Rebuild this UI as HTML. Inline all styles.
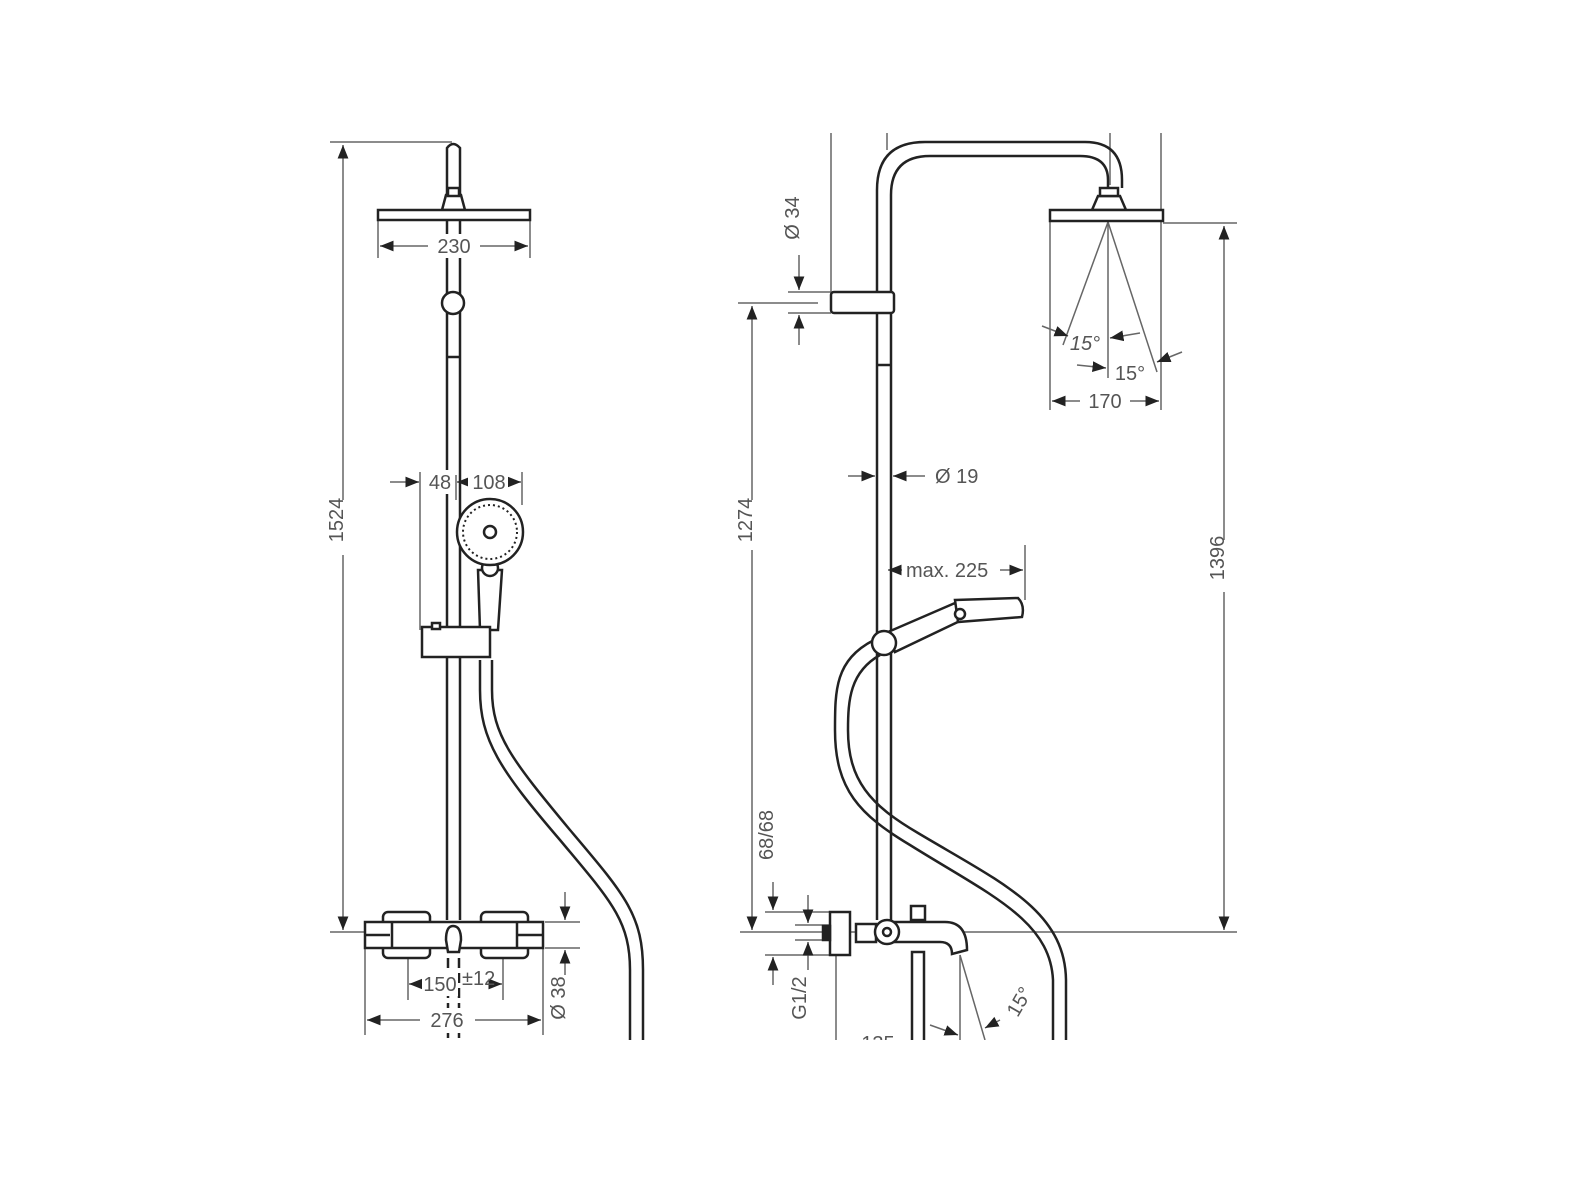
<!DOCTYPE html>
<html><head><meta charset="utf-8"><style>
html,body{margin:0;padding:0;background:#fff;}
svg{display:block;}
text{font-family:"Liberation Sans",sans-serif;fill:#555;font-size:20px;}
</style></head><body>
<svg width="1573" height="1179" viewBox="0 0 1573 1179" xmlns="http://www.w3.org/2000/svg">
<defs>
<marker id="a" viewBox="0 0 10 10" refX="10" refY="5" markerWidth="9" markerHeight="9" orient="auto-start-reverse"><path d="M0,1 L10,5 L0,9 z" fill="#222"/></marker>
<clipPath id="c"><rect x="0" y="0" width="1573" height="1040"/></clipPath>
</defs>
<g clip-path="url(#c)">
<g stroke="#666" stroke-width="1.5" fill="none">
<line x1="330" y1="142" x2="452" y2="142"/>
<line x1="343" y1="145" x2="343" y2="500" marker-start="url(#a)"/>
<line x1="343" y1="555" x2="343" y2="930" marker-end="url(#a)"/>
<line x1="330" y1="932" x2="365" y2="932"/>
<line x1="378" y1="220" x2="378" y2="258"/><line x1="530" y1="220" x2="530" y2="258"/>
<line x1="380" y1="246" x2="428" y2="246" marker-start="url(#a)"/>
<line x1="480" y1="246" x2="528" y2="246" marker-end="url(#a)"/>
<line x1="420" y1="472" x2="420" y2="630"/><line x1="522" y1="472" x2="522" y2="505"/>
<line x1="390" y1="482" x2="419" y2="482" marker-end="url(#a)"/>
<line x1="456" y1="475" x2="456" y2="500"/>
<line x1="468" y1="482" x2="457" y2="482" marker-end="url(#a)"/>
<line x1="508" y1="482" x2="521" y2="482" marker-end="url(#a)"/>
<line x1="408" y1="942" x2="408" y2="1000"/><line x1="503" y1="942" x2="503" y2="1000"/>
<line x1="420" y1="984" x2="409" y2="984" marker-end="url(#a)"/>
<line x1="490" y1="984" x2="502" y2="984" marker-end="url(#a)"/>
<line x1="365" y1="948" x2="365" y2="1035"/><line x1="543" y1="948" x2="543" y2="1035"/>
<line x1="367" y1="1020" x2="420" y2="1020" marker-start="url(#a)"/>
<line x1="475" y1="1020" x2="541" y2="1020" marker-end="url(#a)"/>
<line x1="545" y1="922" x2="580" y2="922"/><line x1="545" y1="948" x2="580" y2="948"/>
<line x1="565" y1="892" x2="565" y2="920" marker-end="url(#a)"/>
<line x1="565" y1="975" x2="565" y2="950" marker-end="url(#a)"/>
<line x1="831" y1="133" x2="831" y2="293"/>
<line x1="887" y1="133" x2="887" y2="150"/>
<line x1="1110" y1="133" x2="1110" y2="185"/>
<line x1="1161" y1="133" x2="1161" y2="210"/>
<line x1="738" y1="303" x2="818" y2="303"/>
<line x1="788" y1="292" x2="831" y2="292"/><line x1="788" y1="313" x2="831" y2="313"/>
<line x1="799" y1="255" x2="799" y2="290" marker-end="url(#a)"/>
<line x1="799" y1="345" x2="799" y2="315" marker-end="url(#a)"/>
<line x1="752" y1="306" x2="752" y2="500" marker-start="url(#a)"/>
<line x1="752" y1="550" x2="752" y2="930" marker-end="url(#a)"/>
<line x1="740" y1="932" x2="1237" y2="932"/>
<line x1="1163" y1="223" x2="1237" y2="223"/>
<line x1="1224" y1="226" x2="1224" y2="540" marker-start="url(#a)"/>
<line x1="1224" y1="592" x2="1224" y2="930" marker-end="url(#a)"/>
<line x1="1050" y1="222" x2="1050" y2="410"/><line x1="1161" y1="222" x2="1161" y2="410"/>
<line x1="1108" y1="210" x2="1108" y2="378"/>
<line x1="1108" y1="222" x2="1063" y2="345"/><line x1="1108" y1="222" x2="1157" y2="372"/>
<line x1="1052" y1="401" x2="1080" y2="401" marker-start="url(#a)"/>
<line x1="1130" y1="401" x2="1159" y2="401" marker-end="url(#a)"/>
<line x1="1042" y1="326" x2="1068" y2="336" marker-end="url(#a)"/>
<line x1="1140" y1="333" x2="1110" y2="338" marker-end="url(#a)"/>
<line x1="1077" y1="365" x2="1106" y2="368" marker-end="url(#a)"/>
<line x1="1182" y1="352" x2="1157" y2="362" marker-end="url(#a)"/>
<line x1="848" y1="476" x2="875" y2="476" marker-end="url(#a)"/>
<line x1="925" y1="476" x2="893" y2="476" marker-end="url(#a)"/>
<line x1="1025" y1="545" x2="1025" y2="600"/>
<line x1="902" y1="570" x2="888" y2="570" marker-end="url(#a)"/>
<line x1="1000" y1="570" x2="1023" y2="570" marker-end="url(#a)"/>
<line x1="765" y1="912" x2="830" y2="912"/><line x1="765" y1="955" x2="830" y2="955"/>
<line x1="795" y1="925" x2="830" y2="925"/><line x1="795" y1="940" x2="830" y2="940"/>
<line x1="773" y1="882" x2="773" y2="910" marker-end="url(#a)"/>
<line x1="773" y1="985" x2="773" y2="957" marker-end="url(#a)"/>
<line x1="808" y1="895" x2="808" y2="923" marker-end="url(#a)"/>
<line x1="808" y1="970" x2="808" y2="942" marker-end="url(#a)"/>
<line x1="836" y1="955" x2="836" y2="1040"/>
<line x1="960" y1="955" x2="960" y2="1040"/>
<line x1="960" y1="955" x2="985" y2="1040"/>
<line x1="930" y1="1025" x2="958" y2="1035" marker-end="url(#a)"/>
<line x1="1000" y1="1020" x2="985" y2="1028" marker-end="url(#a)"/>
</g>
<g stroke="#222" stroke-width="2.5" fill="#fff">
<path d="M447,920 L447,148 Q453,140 460,148 L460,920" fill="none"/>
<path d="M442,210 L446,195 L461,195 L465,210 Z"/>
<rect x="448" y="188" width="11" height="8"/>
<rect x="378" y="210" width="152" height="10"/>
<circle cx="453" cy="303" r="11"/>
<line x1="447" y1="357" x2="460" y2="357"/>
<path d="M480,660 L480,690 C480,740 500,770 560,840 C610,900 630,920 630,970 L630,1040 M492,660 L492,690 C492,735 512,760 570,830 C625,895 643,915 643,970 L643,1040" fill="none"/>
<path d="M478,570 L480,630 L498,630 L502,570 Z"/>
<circle cx="490" cy="568" r="8"/>
<circle cx="490" cy="532" r="33"/>
<circle cx="490" cy="532" r="27" stroke-dasharray="2 3" stroke-width="2"/>
<circle cx="490" cy="532" r="6"/>
<rect x="422" y="627" width="68" height="30"/>
<rect x="432" y="623" width="8" height="6"/>
<rect x="383" y="912" width="47" height="46" rx="5"/>
<rect x="481" y="912" width="47" height="46" rx="5"/>
<rect x="365" y="922" width="178" height="26"/>
<line x1="365" y1="935" x2="390" y2="935"/><line x1="518" y1="935" x2="543" y2="935"/>
<line x1="392" y1="922" x2="392" y2="948"/><line x1="517" y1="922" x2="517" y2="948"/>
<path d="M446,940 Q446,926 453,926 Q461,926 461,940 L459,952 L448,952 Z"/>
<path d="M448,958 v80 M459,958 v80" stroke-dasharray="10 5" fill="none"/>
<path d="M877,920 L877,190 Q877,142 925,142 L1085,142 Q1122,142 1122,180 L1122,188 M891,920 L891,195 Q891,156 930,156 L1080,156 Q1108,156 1108,180 L1108,188" fill="none"/>
<path d="M1092,210 L1098,196 L1120,196 L1126,210 Z"/>
<rect x="1100" y="188" width="18" height="8"/>
<rect x="1050" y="210" width="113" height="11"/>
<rect x="831" y="292" width="63" height="21" rx="3"/>
<line x1="877" y1="365" x2="891" y2="365"/>
<path d="M874,640 C835,660 835,690 835,730 C835,790 860,815 910,845 C990,895 1050,920 1053,980 L1053,1040 M880,655 C850,672 848,700 848,730 C848,780 870,805 918,833 C1000,882 1065,910 1066,980 L1066,1040" fill="none"/>
<path d="M888,632 L955,603 L962,620 L895,652 Z"/>
<path d="M955,600 L1018,598 Q1025,605 1022,617 L958,622 Z"/>
<circle cx="960" cy="614" r="5"/>
<circle cx="884" cy="643" r="12"/>
<path d="M895,922 L945,922 Q967,922 967,950 L952,954 Q952,942 940,942 L895,942 Z"/>
<rect x="911" y="906" width="14" height="14"/>
<rect x="912" y="952" width="12" height="90"/>
<rect x="856" y="924" width="20" height="18"/>
<rect x="830" y="912" width="20" height="43"/>
<rect x="823" y="926" width="7" height="14" fill="#222"/>
<circle cx="887" cy="932" r="12"/><circle cx="887" cy="932" r="4"/>
</g>
<g fill="#fff" stroke="none">
<rect x="432" y="234" width="44" height="24"/>
<rect x="428" y="470" width="24" height="24"/>
<rect x="468" y="470" width="40" height="24"/>
<rect x="422" y="972" width="36" height="24"/>
<rect x="428" y="1008" width="40" height="24"/>
</g>
<g>
<text x="454" y="253" text-anchor="middle">230</text>
<text x="350" y="527" text-anchor="middle" transform="rotate(-90 343 527)">1524</text>
<text x="440" y="489" text-anchor="middle">48</text>
<text x="489" y="489" text-anchor="middle">108</text>
<text x="440" y="991" text-anchor="middle">150</text>
<text x="462" y="985" font-size="10">±12</text>
<text x="447" y="1027" text-anchor="middle">276</text>
<text x="572" y="1005" text-anchor="middle" transform="rotate(-90 565 1005)">Ø 38</text>
<text x="806" y="225" text-anchor="middle" transform="rotate(-90 799 225)">Ø 34</text>
<text x="759" y="527" text-anchor="middle" transform="rotate(-90 752 527)">1274</text>
<text x="1231" y="565" text-anchor="middle" transform="rotate(-90 1224 565)">1396</text>
<text x="1105" y="408" text-anchor="middle">170</text>
<text x="1085" y="350" text-anchor="middle" font-style="italic">15°</text>
<text x="1130" y="380" text-anchor="middle">15°</text>
<text x="935" y="483">Ø 19</text>
<text x="906" y="577">max. 225</text>
<text x="780" y="842" text-anchor="middle" transform="rotate(-90 773 842)">68/68</text>
<text x="813" y="1005" text-anchor="middle" transform="rotate(-90 806 1005)">G1/2</text>
<text x="878" y="1050" text-anchor="middle">135</text>
<text x="1020" y="1008" text-anchor="middle" transform="rotate(-60 1020 1002)">15°</text>
</g>
</g>
</svg>
</body></html>
